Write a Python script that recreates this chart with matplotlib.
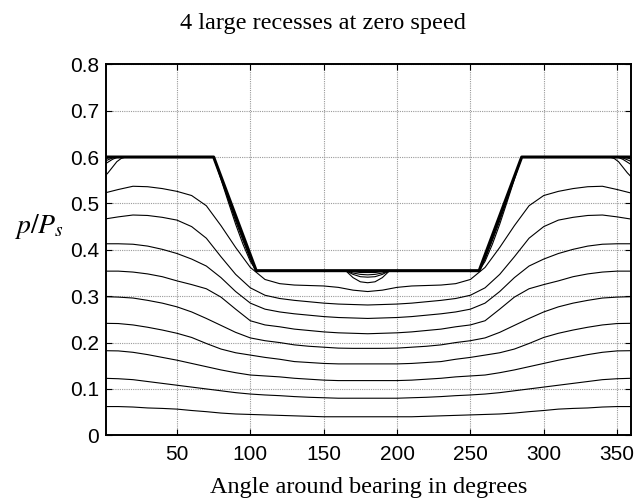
import matplotlib
matplotlib.use("Agg")
import matplotlib.pyplot as plt

# angle grid for the smooth axial-station curves (deg)
ang = [0, 10, 20, 30, 40, 50, 60, 70, 80, 90, 100, 110, 120, 130, 140, 150, 160, 170, 180,
       190, 200, 210, 220, 230, 240, 250, 260, 270, 280, 290, 300, 310, 320, 330, 340, 350, 360]

p_a = [0.522, 0.530, 0.537, 0.536, 0.532, 0.526, 0.517, 0.495, 0.452, 0.405, 0.362, 0.336, 0.327,
       0.324, 0.323, 0.322, 0.319, 0.313, 0.310, 0.313, 0.319, 0.322, 0.323, 0.324, 0.327, 0.336,
       0.362, 0.405, 0.452, 0.495, 0.517, 0.526, 0.532, 0.536, 0.537, 0.530, 0.522]
p_b = [0.466, 0.471, 0.475, 0.474, 0.470, 0.464, 0.450, 0.425, 0.385, 0.347, 0.318, 0.302, 0.295,
       0.291, 0.288, 0.285, 0.283, 0.282, 0.281, 0.282, 0.283, 0.285, 0.288, 0.291, 0.295, 0.302,
       0.318, 0.347, 0.385, 0.425, 0.450, 0.464, 0.470, 0.474, 0.475, 0.471, 0.466]
p_c = [0.413, 0.413, 0.412, 0.408, 0.401, 0.392, 0.380, 0.365, 0.340, 0.310, 0.285, 0.272, 0.266,
       0.262, 0.259, 0.256, 0.254, 0.253, 0.252, 0.253, 0.254, 0.256, 0.259, 0.262, 0.266, 0.272,
       0.285, 0.310, 0.340, 0.365, 0.380, 0.392, 0.401, 0.408, 0.412, 0.413, 0.413]
p_d = [0.354, 0.354, 0.352, 0.348, 0.342, 0.333, 0.325, 0.316, 0.298, 0.272, 0.247, 0.238, 0.234,
       0.229, 0.226, 0.223, 0.221, 0.220, 0.219, 0.220, 0.221, 0.223, 0.226, 0.229, 0.234, 0.238,
       0.247, 0.272, 0.298, 0.316, 0.325, 0.333, 0.342, 0.348, 0.352, 0.354, 0.354]
p_e = [0.299, 0.298, 0.296, 0.291, 0.285, 0.277, 0.266, 0.252, 0.237, 0.222, 0.210, 0.204, 0.200,
       0.195, 0.192, 0.190, 0.188, 0.1875, 0.1875, 0.1875, 0.188, 0.190, 0.192, 0.195, 0.200, 0.204,
       0.210, 0.222, 0.237, 0.252, 0.266, 0.277, 0.285, 0.291, 0.296, 0.298, 0.299]
p_f = [0.2415, 0.241, 0.238, 0.233, 0.227, 0.220, 0.211, 0.198, 0.186, 0.178, 0.173, 0.168, 0.164,
       0.159, 0.157, 0.155, 0.154, 0.154, 0.154, 0.154, 0.154, 0.155, 0.157, 0.159, 0.164, 0.168,
       0.173, 0.178, 0.186, 0.198, 0.211, 0.220, 0.227, 0.233, 0.238, 0.241, 0.2415]
p_g = [0.1825, 0.182, 0.179, 0.174, 0.168, 0.162, 0.155, 0.148, 0.141, 0.135, 0.130, 0.128, 0.126,
       0.123, 0.121, 0.119, 0.118, 0.118, 0.118, 0.118, 0.118, 0.119, 0.121, 0.123, 0.126, 0.128,
       0.130, 0.135, 0.141, 0.148, 0.155, 0.162, 0.168, 0.174, 0.179, 0.182, 0.1825]
p_h = [0.123, 0.122, 0.120, 0.116, 0.112, 0.108, 0.104, 0.100, 0.096, 0.092, 0.089, 0.087, 0.0855,
       0.0835, 0.082, 0.081, 0.080, 0.080, 0.080, 0.080, 0.080, 0.081, 0.082, 0.0835, 0.0855, 0.087,
       0.089, 0.092, 0.096, 0.100, 0.104, 0.108, 0.112, 0.116, 0.120, 0.122, 0.123]
p_i = [0.062, 0.062, 0.061, 0.059, 0.058, 0.0565, 0.0535, 0.051, 0.048, 0.046, 0.045, 0.044, 0.043,
       0.042, 0.041, 0.040, 0.040, 0.040, 0.040, 0.040, 0.040, 0.040, 0.041, 0.042, 0.043, 0.044,
       0.045, 0.046, 0.048, 0.051, 0.0535, 0.0565, 0.058, 0.059, 0.061, 0.062, 0.062]

# stations inside the recess land: bundle along the recess pressure
ang_r = [0, 3, 6, 9, 12, 15, 75, 80, 85, 90, 95, 100, 104, 165, 170, 175, 180, 185, 190, 195,
         256, 260, 265, 270, 275, 280, 285, 345, 348, 351, 354, 357, 360]
p_r1 = [0.595, 0.598, 0.600, 0.600, 0.600, 0.600, 0.600, 0.557, 0.514, 0.471, 0.429, 0.385, 0.355,
        0.355, 0.353, 0.351, 0.351, 0.351, 0.353, 0.355, 0.355, 0.385, 0.429, 0.471, 0.514, 0.557,
        0.600, 0.600, 0.600, 0.600, 0.600, 0.598, 0.595]
p_r2 = [0.590, 0.594, 0.598, 0.600, 0.600, 0.600, 0.600, 0.556, 0.512, 0.467, 0.424, 0.382, 0.355,
        0.355, 0.350, 0.347, 0.346, 0.347, 0.350, 0.355, 0.355, 0.382, 0.424, 0.467, 0.512, 0.556,
        0.600, 0.600, 0.600, 0.600, 0.598, 0.594, 0.590]
p_r3 = [0.583, 0.589, 0.595, 0.599, 0.600, 0.600, 0.600, 0.555, 0.508, 0.462, 0.420, 0.380, 0.355,
        0.355, 0.347, 0.342, 0.341, 0.342, 0.347, 0.355, 0.355, 0.380, 0.420, 0.462, 0.508, 0.555,
        0.600, 0.600, 0.600, 0.599, 0.595, 0.589, 0.583]
p_r4 = [0.556, 0.566, 0.578, 0.590, 0.597, 0.600, 0.600, 0.552, 0.503, 0.455, 0.412, 0.375, 0.355,
        0.355, 0.340, 0.331, 0.329, 0.331, 0.340, 0.355, 0.355, 0.375, 0.412, 0.455, 0.503, 0.552,
        0.600, 0.600, 0.597, 0.590, 0.578, 0.566, 0.556]

# recess pressure (thick)
ang_rec = [0, 75, 104, 256, 285, 360]
p_rec = [0.6, 0.6, 0.355, 0.355, 0.6, 0.6]

plt.rcParams['font.family'] = ['Liberation Sans', 'DejaVu Sans']
plt.rcParams['mathtext.fontset'] = 'stix'

fig = plt.figure(figsize=(6.35, 5.01), dpi=100)
ax = fig.add_axes([0.1669, 0.1311, 0.8268, 0.7406])

for p in [p_a, p_b, p_c, p_d, p_e, p_f, p_g, p_h, p_i]:
    ax.plot(ang, p, color='k', lw=0.8)
for p in [p_r1, p_r2, p_r3, p_r4]:
    ax.plot(ang_r, p, color='k', lw=0.8)
ax.plot(ang_rec, p_rec, color='k', lw=2.2)

ax.set_xlim(1.6, 359.5)
ax.set_ylim(0, 0.8)
ax.set_xticks([50, 100, 150, 200, 250, 300, 350])
ax.set_yticks([0, 0.1, 0.2, 0.3, 0.4, 0.5, 0.6, 0.7, 0.8])
ax.set_yticklabels(['0', '0.1', '0.2', '0.3', '0.4', '0.5', '0.6', '0.7', '0.8'])
ax.grid(True, color='#9a9a9a', linestyle=(0, (1, 1)), lw=0.8)
ax.tick_params(direction='in', length=4, width=0.8, labelsize=15,
               top=True, right=True)
ax.tick_params(axis='x', pad=7)
ax.tick_params(axis='y', pad=5)
for s in ax.spines.values():
    s.set_linewidth(1.4)

fig.text(0.508, 0.954, '4 large recesses at zero speed', ha='center', va='center',
         family='Liberation Serif', fontsize=17.5)
ax.set_xlabel('Angle around bearing in degrees', family='Liberation Serif', fontsize=17.5,
              labelpad=9)
fig.text(0.0614, 0.547, r'$p/P_s$', ha='center', va='center', fontsize=20)

fig.savefig('out.png', dpi=100)
